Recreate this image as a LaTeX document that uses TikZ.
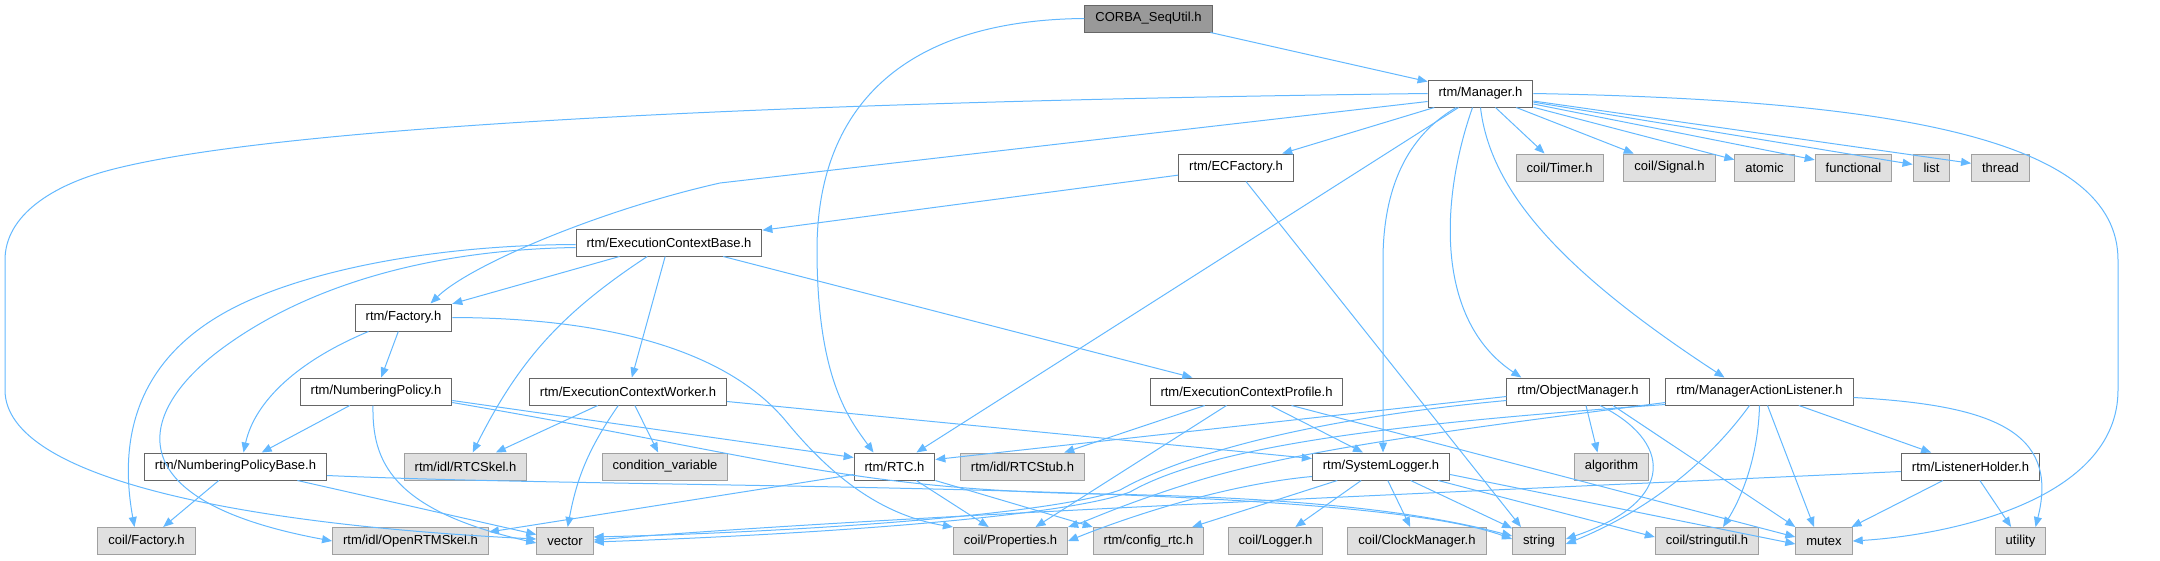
\documentclass[tikz,border=0pt]{standalone}
\usepackage{fontspec}
\setmainfont{Liberation Sans}
\usepackage{tikz}
\usetikzlibrary{arrows.meta}
\definecolor{edgeblue}{HTML}{63B8FF}
\definecolor{boxline}{HTML}{666666}
\definecolor{sysline}{HTML}{A0A0A0}
\definecolor{sysfill}{HTML}{E0E0E0}
\definecolor{rootfill}{HTML}{999999}

\begin{document}
\begin{tikzpicture}[x=1pt, y=-1pt,
    file/.style={draw=boxline, fill=white, line width=1pt, minimum height=27pt,
      inner xsep=10.5pt, inner ysep=0pt, font=\fontsize{13}{15}\selectfont},
    sysfile/.style={file, draw=sysline, fill=sysfill},
    rootfile/.style={file, fill=rootfill},
    edge/.style={draw=edgeblue, line width=1pt, -{Triangle[length=10pt, width=8pt]}}]
        \useasboundingbox (0,0) rectangle (2160,560);
        \node[rootfile] (root) at (1148.5,18.5) {CORBA\_SeqUtil.h};
        \node[file] (mgr) at (1480.5,93.5) {rtm/Manager.h};
        \node[sysfile] (timer) at (1559.5,167.5) {coil/Timer.h};
        \node[sysfile] (signal) at (1669.5,167.5) {coil/Signal.h};
        \node[sysfile] (atomic) at (1764.5,167.5) {atomic};
        \node[sysfile] (functional) at (1853.5,167.5) {functional};
        \node[sysfile] (list) at (1931.5,167.5) {list};
        \node[sysfile] (thread) at (2000.5,167.5) {thread};
        \node[file] (ecfac) at (1236,167.5) {rtm/ECFactory.h};
        \node[file] (ecbase) at (669,242.5) {rtm/ExecutionContextBase.h};
        \node[file] (factory) at (403.5,317.5) {rtm/Factory.h};
        \node[file] (numpol) at (376,391.5) {rtm/NumberingPolicy.h};
        \node[file] (ecworker) at (628,391.5) {rtm/ExecutionContextWorker.h};
        \node[file] (ecprof) at (1246.5,391.5) {rtm/ExecutionContextProfile.h};
        \node[file] (objmgr) at (1578,391.5) {rtm/ObjectManager.h};
        \node[file] (mal) at (1759.5,391.5) {rtm/ManagerActionListener.h};
        \node[file] (npbase) at (235.5,466.5) {rtm/NumberingPolicyBase.h};
        \node[sysfile] (rtcskel) at (465.5,466.5) {rtm/idl/RTCSkel.h};
        \node[sysfile] (condvar) at (665,466.5) {condition\_variable};
        \node[file] (rtc) at (894.5,466.5) {rtm/RTC.h};
        \node[sysfile] (rtcstub) at (1022.5,466.5) {rtm/idl/RTCStub.h};
        \node[file] (syslog) at (1381,466.5) {rtm/SystemLogger.h};
        \node[sysfile] (algo) at (1611.5,466.5) {algorithm};
        \node[file] (lholder) at (1970.5,466.5) {rtm/ListenerHolder.h};
        \node[sysfile] (cfactory) at (146.5,541) {coil/Factory.h};
        \node[sysfile] (openrtm) at (410.5,541) {rtm/idl/OpenRTMSkel.h};
        \node[sysfile] (vector) at (565,541) {vector};
        \node[sysfile] (props) at (1010.5,541) {coil/Properties.h};
        \node[sysfile] (cfgrtc) at (1148.5,541) {rtm/config\_rtc.h};
        \node[sysfile] (logger) at (1275.5,541) {coil/Logger.h};
        \node[sysfile] (clock) at (1417,541) {coil/ClockManager.h};
        \node[sysfile] (string) at (1539,541) {string};
        \node[sysfile] (strutil) at (1707,541) {coil/stringutil.h};
        \node[sysfile] (mutex) at (1824,541) {mutex};
        \node[sysfile] (utility) at (2020.5,541) {utility};

        \draw[edge] (root) -- (mgr);
        \draw[edge] (root.west) .. controls (900,20) and (817,110) .. (817,250) .. controls (817,380) and (850,420) .. ([xshift=-21pt]rtc.north);

        \draw[edge] (mgr.west) .. controls (900,100) and (300,120) .. (110,170) .. controls (53,185) and (5,215) .. (5,260) -- (5,390) .. controls (5,480) and (250,525) .. ([yshift=2pt]vector.west);
        \draw[edge] ([yshift=-8pt]mgr.west) -- (720,183) .. controls (600,210) and (470,265) .. ([xshift=27pt]factory.north);
        \draw[edge] (mgr) -- (ecfac);
        \draw[edge] (mgr) -- (rtc);
        \draw[edge] (mgr) .. controls (1400,140) and (1383,200) .. (1383,260) -- ([xshift=2pt]syslog.north);
        \draw[edge] ([xshift=-8pt]mgr.south) .. controls (1440,200) and (1435,320) .. ([xshift=15pt]objmgr.north west);
        \draw[edge] (mgr.south) .. controls (1490,190) and (1560,270) .. ([xshift=-35pt]mal.north);
        \foreach \n in {timer,signal,atomic,functional,list,thread}
          \draw[edge] (mgr) -- (\n);
        \draw[edge] (mgr.east) .. controls (1900,100) and (2118,140) .. (2118,260) -- (2118,390) .. controls (2118,500) and (1950,535) .. (mutex.east);

        \draw[edge] (ecfac) -- (ecbase);
        \draw[edge] ([xshift=10pt]ecfac.south) -- ([xshift=-18pt]string.north);

        \draw[edge] (ecbase) -- (factory);
        \draw[edge] ([yshift=-2pt]ecbase.west) .. controls (450,245) and (330,265) .. (250,300) .. controls (150,344) and (115,420) .. ([xshift=-12pt]cfactory.north);
        \draw[edge] ([yshift=-5pt]ecbase.west) .. controls (420,250) and (300,290) .. (220,350) .. controls (140,410) and (110,500) .. (openrtm.west);
        \draw[edge] (ecbase) to[bend right=15] (rtcskel);
        \draw[edge] (ecbase) -- (ecworker);
        \draw[edge] (ecbase) -- (ecprof);

        \draw[edge] (factory) -- (numpol);
        \draw[edge] ([xshift=-35pt]factory.south) .. controls (300,360) and (255,400) .. ([xshift=8pt]npbase.north);
        \draw[edge] (factory.east) .. controls (620,318) and (730,355) .. (785,420) .. controls (830,475) and (880,515) .. (props.north west);

        \draw[edge] (numpol) -- (npbase);
        \draw[edge] ([xshift=-3pt]numpol.south) .. controls (372,460) and (390,510) .. ([yshift=-2pt]vector.west);
        \draw[edge] ([yshift=-9pt]numpol.east) -- ([yshift=9pt]rtc.west);
        \draw[edge] ([yshift=-11pt]numpol.east) .. controls (760,455) and (850,490) .. (1100,494) .. controls (1350,498) and (1450,520) .. ([yshift=5pt]string.west);

        \draw[edge] (npbase) -- (cfactory);
        \draw[edge] (npbase) -- (vector);
        \draw[edge] ([yshift=-9pt]npbase.east) .. controls (650,490) and (1350,480) .. ([yshift=2pt]string.west);

        \draw[edge] (ecworker) -- (rtcskel);
        \draw[edge] (ecworker) -- (condvar);
        \draw[edge] (ecworker) to[bend right=12] (vector);
        \draw[edge] ([yshift=-10pt]ecworker.east) -- ([yshift=8pt]syslog.west);

        \draw[edge] (ecprof) -- (rtcstub);
        \draw[edge] ([xshift=-20pt]ecprof.south) -- ([xshift=25pt]props.north);
        \draw[edge] ([xshift=24pt]ecprof.south) -- ([xshift=-18pt]syslog.north);
        \draw[edge] ([xshift=45pt]ecprof.south) -- ([yshift=4pt]mutex.west);

        \draw[edge] ([yshift=-5pt]objmgr.west) -- ([yshift=7pt]rtc.east);
        \draw[edge] ([yshift=-9pt]objmgr.west) .. controls (1350,415) and (1200,445) .. (1120,490) .. controls (1050,515) and (800,532) .. ([yshift=4pt]vector.east);
        \draw[edge] ([xshift=8pt]objmgr.south) -- ([xshift=-14pt]algo.north);
        \draw[edge] ([xshift=22pt]objmgr.south) .. controls (1670,440) and (1680,500) .. ([yshift=2pt]string.east);
        \draw[edge] ([xshift=35pt]objmgr.south) -- (mutex.north west);

        \draw[edge] (mal) -- (lholder);
        \draw[edge] ([yshift=-6pt]mal.east) .. controls (1990,405) and (2060,430) .. ([xshift=15pt]utility.north);
        \draw[edge] ([xshift=8pt]mal.south) -- ([xshift=-10pt]mutex.north);
        \draw[edge] (mal.south) .. controls (1758,460) and (1740,500) .. ([xshift=16pt]strutil.north);
        \draw[edge] ([xshift=-10pt]mal.south) .. controls (1710,460) and (1650,510) .. ([yshift=-3pt]string.east);
        \draw[edge] ([yshift=-11pt]mal.west) .. controls (1450,430) and (1300,450) .. (1200,480) .. controls (1120,505) and (1090,520) .. (props.north east);
        \draw[edge] ([yshift=-13pt]mal.west) .. controls (1450,420) and (1220,440) .. (1130,492) .. controls (1060,518) and (800,535) .. ([yshift=-1pt]vector.east);

        \draw[edge] (lholder) -- (mutex);
        \draw[edge] (lholder) -- (utility);
        \draw[edge] ([yshift=-5pt]lholder.west) .. controls (1500,490) and (900,515) .. ([yshift=1pt]vector.east);

        \draw[edge] (syslog) -- (logger);
        \draw[edge] (syslog) -- (clock);
        \draw[edge] (syslog) -- (string);
        \draw[edge] (syslog) -- (cfgrtc);
        \draw[edge] ([xshift=-12pt]syslog.south east) -- ([yshift=4pt]strutil.west);
        \draw[edge] ([yshift=-8pt]syslog.east) -- ([yshift=-3pt]mutex.west);
        \draw[edge] ([yshift=-10pt]syslog.west) .. controls (1220,485) and (1120,520) .. (props.east);

        \draw[edge] (rtc) -- (props);
        \draw[edge] (rtc.south east) -- (cfgrtc.north west);
        \draw[edge] ([yshift=-8pt]rtc.west) -- ([yshift=9pt]openrtm.east);
      \end{tikzpicture}
\end{document}
